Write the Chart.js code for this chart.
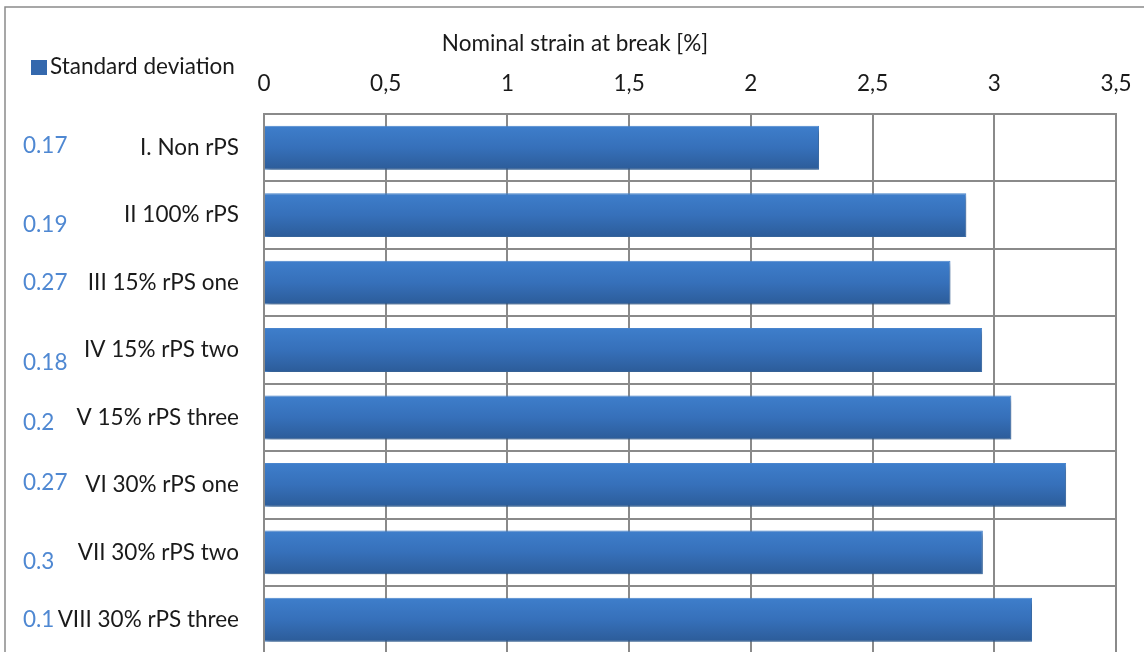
<!DOCTYPE html>
<html>
<head>
<meta charset="utf-8">
<title>Nominal strain at break</title>
<script src="https://cdn.jsdelivr.net/npm/chart.js@4.4.0/dist/chart.umd.min.js"></script>
<style>
  html, body { margin: 0; padding: 0; background: #fff; overflow: hidden; }
  canvas { display: block; }
</style>
</head>
<body>
<canvas id="strain" width="1144" height="692"></canvas>
<script>
const samples = ['I. Non rPS', 'II 100% rPS', 'III 15% rPS one', 'IV 15% rPS two',
  'V 15% rPS three', 'VI 30% rPS one', 'VII 30% rPS two', 'VIII 30% rPS three'];
const strainAtBreak = [2.28, 2.885, 2.82, 2.95, 3.07, 3.295, 2.953, 3.155];
const stdDeviation = ['0.17', '0.19', '0.27', '0.18', '0.2', '0.27', '0.3', '0.1'];

const FONT = 'Lato, "Open Sans", sans-serif';
const FSIZE = 22.5;
const GRID = '#8a8a8a';

// the sd column is a little ragged, nudge each label off its row centre
const sdNudge = [-2, 10, 0, 13, 5, -2, 9, 0];

function barGradient(context) {
  const chart = context.chart;
  const y = chart.scales.y;
  if (!y || !chart.chartArea) return '#3570b8';
  const c = y.getPixelForValue(context.dataIndex);
  const half = (y.height / samples.length) * 0.65 / 2;
  const g = chart.ctx.createLinearGradient(0, c - half, 0, c + half);
  g.addColorStop(0, '#3e7ecb');
  g.addColorStop(0.5, '#3670ba');
  g.addColorStop(1, '#2c5c99');
  return g;
}

const decor = {
  id: 'decor',
  beforeDraw(chart) {
    const ctx = chart.ctx;
    ctx.save();
    ctx.strokeStyle = GRID;
    ctx.lineWidth = 1.5;
    ctx.strokeRect(5, 7, 1300, 800);
    ctx.restore();
  },
  beforeDatasetsDraw(chart) {
    const ctx = chart.ctx;
    ctx.save();
    ctx.shadowColor = 'rgba(0,0,0,0.35)';
    ctx.shadowBlur = 5;
    ctx.shadowOffsetX = 2;
    ctx.shadowOffsetY = 3;
  },
  afterDatasetsDraw(chart) {
    chart.ctx.restore();
  },
  afterDraw(chart) {
    const ctx = chart.ctx;
    const y = chart.scales.y;
    ctx.save();
    ctx.font = FSIZE + 'px ' + FONT;
    ctx.textBaseline = 'middle';

    // axis title
    ctx.fillStyle = '#1a1a1a';
    ctx.textAlign = 'center';
    ctx.fillText('Nominal strain at break [%]', 575, 44);

    // legend
    ctx.fillStyle = '#3468ad';
    ctx.fillRect(31, 60, 16, 15);
    ctx.fillStyle = '#1a1a1a';
    ctx.textAlign = 'left';
    ctx.fillText('Standard deviation', 50, 67);

    // standard deviation column
    ctx.fillStyle = '#4f88d2';
    stdDeviation.forEach((v, i) => {
      ctx.fillText(v, 23, y.getPixelForValue(i) + sdNudge[i]);
    });
    ctx.restore();
  }
};

new Chart(document.getElementById('strain'), {
  type: 'bar',
  data: {
    labels: samples,
    datasets: [{
      label: 'Nominal strain at break',
      data: strainAtBreak,
      backgroundColor: barGradient,
      borderColor: '#4a88d2',
      borderWidth: 1,
      categoryPercentage: 1,
      barPercentage: 0.65
    }]
  },
  options: {
    indexAxis: 'y',
    responsive: false,
    animation: false,
    layout: { padding: { left: 0, top: 0, right: 28, bottom: 6 } },
    plugins: {
      legend: { display: false },
      tooltip: { enabled: false }
    },
    scales: {
      x: {
        position: 'top',
        min: 0,
        max: 3.5,
        afterFit(scale) {
          scale.height = 114;
          scale.paddingLeft = 0;
          scale.paddingRight = 0;
        },
        ticks: {
          stepSize: 0.5,
          padding: 17,
          color: '#1a1a1a',
          font: { family: FONT, size: FSIZE },
          callback: v => String(v).replace('.', ',')
        },
        grid: { color: GRID, lineWidth: 2, drawTicks: false },
        border: { color: GRID, width: 2 }
      },
      y: {
        afterFit(scale) { scale.width = 264; },
        ticks: {
          padding: 25,
          color: '#1a1a1a',
          font: { family: FONT, size: FSIZE }
        },
        grid: { color: GRID, lineWidth: 2, drawTicks: false, offset: true },
        border: { color: GRID, width: 2 }
      }
    }
  },
  plugins: [decor]
});
</script>
</body>
</html>
